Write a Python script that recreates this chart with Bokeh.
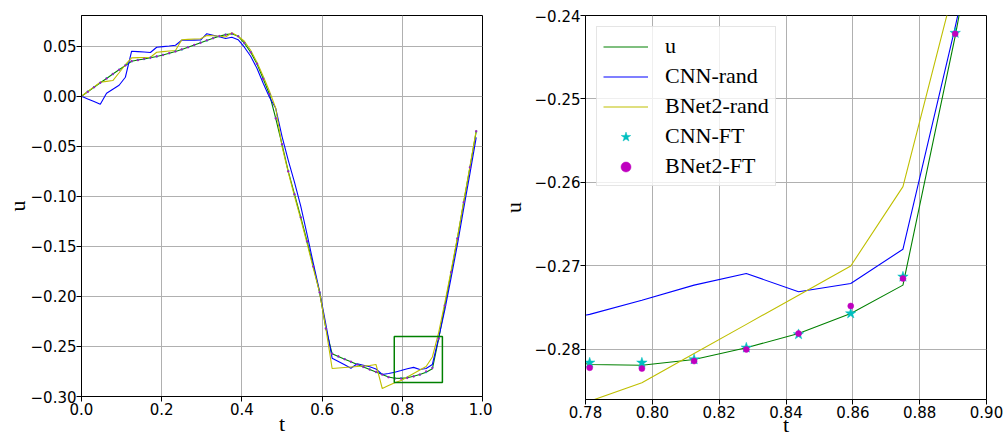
import numpy as np
from bokeh.plotting import figure
from bokeh.layouts import row
from bokeh.models import (Range1d, FixedTicker, CustomJSTickFormatter, Legend,
                          LegendItem)
from bokeh.embed import file_html
from bokeh.resources import INLINE

# ---------------- data (grid t = k/64, k = 0..63) ----------------
t = np.arange(64) / 64.0

u_true = [0.0000, 0.0045, 0.0090, 0.0135, 0.0178, 0.0222, 0.0265, 0.0308,
          0.0350, 0.0362, 0.0373, 0.0385, 0.0398, 0.0413, 0.0430, 0.0448,
          0.0468, 0.0490, 0.0512, 0.0535, 0.0558, 0.0580, 0.0600, 0.0616,
          0.0625, 0.0600, 0.0530, 0.0440, 0.0325, 0.0175, 0.0020, -0.0220,
          -0.0480, -0.0750, -0.0980, -0.1210, -0.1450, -0.1700, -0.1960, -0.2320,
          -0.2573, -0.2600, -0.2627, -0.2653, -0.2680, -0.2705, -0.2730, -0.2755,
          -0.2780, -0.2805, -0.2818, -0.2819, -0.2812, -0.2798, -0.2781, -0.2757,
          -0.2723, -0.2425, -0.2090, -0.1760, -0.1420, -0.1060, -0.0710, -0.0350]

cnn_rand = [0.0000, -0.0027, -0.0053, -0.0080, 0.0030, 0.0070, 0.0110, 0.0190,
            0.0450, 0.0446, 0.0442, 0.0437, 0.0490, 0.0496, 0.0502, 0.0510,
            0.0560, 0.0560, 0.0561, 0.0562, 0.0625, 0.0610, 0.0595, 0.0577,
            0.0590, 0.0565, 0.0490, 0.0400, 0.0280, 0.0130, -0.0010, -0.0120,
            -0.0400, -0.0640, -0.0860, -0.1100, -0.1380, -0.1670, -0.1950, -0.2280,
            -0.2617, -0.2650, -0.2683, -0.2717, -0.2673, -0.2688, -0.2703, -0.2725,
            -0.2780, -0.2770, -0.2758, -0.2741, -0.2723, -0.2709, -0.2731, -0.2721,
            -0.2680, -0.2414, -0.2130, -0.1810, -0.1480, -0.1120, -0.0770, -0.0410]

bnet2_rand = [0.0000, 0.0047, 0.0094, 0.0140, 0.0149, 0.0157, 0.0235, 0.0315,
              0.0384, 0.0386, 0.0388, 0.0390, 0.0440, 0.0446, 0.0452, 0.0457,
              0.0564, 0.0568, 0.0572, 0.0574, 0.0607, 0.0604, 0.0600, 0.0592,
              0.0634, 0.0600, 0.0550, 0.0460, 0.0340, 0.0200, 0.0050, -0.0120,
              -0.0500, -0.0760, -0.1000, -0.1230, -0.1470, -0.1720, -0.1960, -0.2320,
              -0.2720, -0.2715, -0.2710, -0.2705, -0.2700, -0.2695, -0.2690, -0.2680,
              -0.2920, -0.2890, -0.2862, -0.2840, -0.2805, -0.2770, -0.2735, -0.2700,
              -0.2605, -0.2361, -0.2060, -0.1740, -0.1410, -0.1050, -0.0700, -0.0340]

cnn_ft = [0.0000, 0.0046, 0.0091, 0.0134, 0.0179, 0.0221, 0.0266, 0.0309,
          0.0349, 0.0363, 0.0372, 0.0386, 0.0397, 0.0414, 0.0429, 0.0449,
          0.0467, 0.0491, 0.0511, 0.0536, 0.0557, 0.0581, 0.0599, 0.0617,
          0.0624, 0.0601, 0.0529, 0.0441, 0.0324, 0.0176, 0.0019, -0.0219,
          -0.0481, -0.0749, -0.0981, -0.1209, -0.1451, -0.1699, -0.1961, -0.2319,
          -0.2572, -0.2601, -0.2626, -0.2654, -0.2679, -0.2706, -0.2729, -0.2756,
          -0.2779, -0.2806, -0.2816, -0.2816, -0.2812, -0.2798, -0.2782, -0.2757,
          -0.2713, -0.2421, -0.2089, -0.1761, -0.1419, -0.1061, -0.0709, -0.0351]

bnet2_ft = [0.0000, 0.0044, 0.0090, 0.0136, 0.0177, 0.0223, 0.0264, 0.0308,
            0.0351, 0.0361, 0.0374, 0.0384, 0.0399, 0.0412, 0.0431, 0.0447,
            0.0469, 0.0489, 0.0513, 0.0534, 0.0559, 0.0579, 0.0601, 0.0615,
            0.0626, 0.0599, 0.0531, 0.0439, 0.0326, 0.0174, 0.0021, -0.0221,
            -0.0479, -0.0751, -0.0979, -0.1211, -0.1449, -0.1701, -0.1959, -0.2321,
            -0.2574, -0.2599, -0.2628, -0.2652, -0.2681, -0.2704, -0.2731, -0.2754,
            -0.2781, -0.2808, -0.2822, -0.2823, -0.2814, -0.2800, -0.2781, -0.2748,
            -0.2715, -0.2422, -0.2091, -0.1759, -0.1421, -0.1059, -0.0711, -0.0349]

series_names = ["u", "CNN-rand", "BNet2-rand", "CNN-FT", "BNet2-FT"]
x_label = "t"
y_label = "u"

left_xticks = [0.0, 0.2, 0.4, 0.6, 0.8, 1.0]
left_xlabels = ["0.0", "0.2", "0.4", "0.6", "0.8", "1.0"]
left_yticks = [-0.30, -0.25, -0.20, -0.15, -0.10, -0.05, 0.00, 0.05]
left_ylabels = ["\u22120.30", "\u22120.25", "\u22120.20", "\u22120.15",
                "\u22120.10", "\u22120.05", "0.00", "0.05"]
right_xticks = [0.78, 0.80, 0.82, 0.84, 0.86, 0.88, 0.90]
right_xlabels = ["0.78", "0.80", "0.82", "0.84", "0.86", "0.88", "0.90"]
right_yticks = [-0.28, -0.27, -0.26, -0.25, -0.24]
right_ylabels = ["\u22120.28", "\u22120.27", "\u22120.26", "\u22120.25", "\u22120.24"]

full_xlim = [0.0, 1.0]
full_ylim = [-0.30, 0.0807]
zoom_xlim = [0.78, 0.90]
zoom_ylim = [-0.286, -0.24]

# ---------------- styling ----------------
C_U, C_CNN, C_BN, C_CFT, C_BFT = "#008000", "#0000ff", "#bfbf00", "#00bfbf", "#bf00bf"
SERIF = "Liberation Serif"
SANS = "DejaVu Sans"


def fmt(tick_vals, tick_labels):
    return CustomJSTickFormatter(args=dict(tvals=tick_vals, tlabels=tick_labels), code="""
        for (let i = 0; i < tvals.length; i++) {
            if (Math.abs(tvals[i] - tick) < 1e-9) { return tlabels[i]; }
        }
        return "";
    """)


def make_fig(xlim, ylim, fw, fh, bl, br, bt, bb, xt, xl, yt, yl, xs, ys):
    p = figure(x_range=Range1d(*xlim), y_range=Range1d(*ylim),
               frame_width=fw, frame_height=fh,
               min_border_left=bl, min_border_right=br,
               min_border_top=bt, min_border_bottom=bb,
               output_backend="svg", toolbar_location=None)
    p.background_fill_color = "white"
    p.border_fill_color = "white"
    p.outline_line_color = "black"
    p.outline_line_width = 1
    p.xaxis.ticker = FixedTicker(ticks=xt)
    p.yaxis.ticker = FixedTicker(ticks=yt)
    p.xaxis.formatter = fmt(xt, xl)
    p.yaxis.formatter = fmt(yt, yl)
    for ax in (p.xaxis[0], p.yaxis[0]):
        ax.major_tick_in = 0
        ax.major_tick_out = 5
        ax.major_tick_line_color = "black"
        ax.minor_tick_line_color = None
        ax.axis_line_color = "black"
        ax.major_label_text_font = SANS
        ax.major_label_text_font_size = "15px"
        ax.major_label_text_color = "black"
        ax.axis_label_text_font = SERIF
        ax.axis_label_text_font_size = "22px"
        ax.axis_label_text_font_style = "normal"
        ax.axis_label_text_color = "black"
    p.xaxis.axis_label = x_label
    p.yaxis.axis_label = y_label
    p.xaxis.major_label_standoff = 1
    p.yaxis.major_label_standoff = 0
    p.xaxis.axis_label_standoff = xs
    p.yaxis.axis_label_standoff = ys
    p.grid.grid_line_color = "#b0b0b0"
    p.grid.grid_line_width = 1
    return p


def draw_series(p, star_size, dot_size):
    r1 = p.line(t, u_true, line_color=C_U, line_width=1.1)
    r2 = p.line(t, cnn_rand, line_color=C_CNN, line_width=1.1)
    r3 = p.line(t, bnet2_rand, line_color=C_BN, line_width=1.1)
    r4 = p.scatter(t, cnn_ft, marker="star", size=star_size,
                   fill_color=C_CFT, line_color=C_CFT, line_width=0.5)
    r5 = p.scatter(t, bnet2_ft, marker="circle", size=dot_size,
                   fill_color=C_BFT, line_color=C_BFT, line_width=0.5)
    return [r1, r2, r3, r4, r5]


# ---------------- left: full signal ----------------
p1 = make_fig(full_xlim, full_ylim, 401, 381, 81, 10, 15, 40,
              left_xticks, left_xlabels, left_yticks, left_ylabels, -7, -2)
draw_series(p1, 2.2, 1.6)
p1.quad(left=[zoom_xlim[0]], right=[zoom_xlim[1]], bottom=[zoom_ylim[0]],
        top=[zoom_ylim[1]], fill_alpha=0, line_color=C_U, line_width=1.5)

# ---------------- right: zoom ----------------
p2 = make_fig(zoom_xlim, zoom_ylim, 401, 384, 93, 20, 14, 38,
              right_xticks, right_xlabels, right_yticks, right_ylabels, -9, 6)
rs = draw_series(p2, 11, 6)

legend = Legend(items=[LegendItem(label=n, renderers=[r]) for n, r in zip(series_names, rs)],
                location="top_left", margin=11, padding=6, spacing=4,
                label_height=25, glyph_height=25, glyph_width=45, label_standoff=17,
                label_text_font=SERIF, label_text_font_size="22px",
                label_text_color="black",
                border_line_color="#cccccc", border_line_width=1,
                background_fill_color="white", background_fill_alpha=0.8)
p2.add_layout(legend)

layout = row(p1, p2)
open("out.html", "w").write(file_html(layout, INLINE))
